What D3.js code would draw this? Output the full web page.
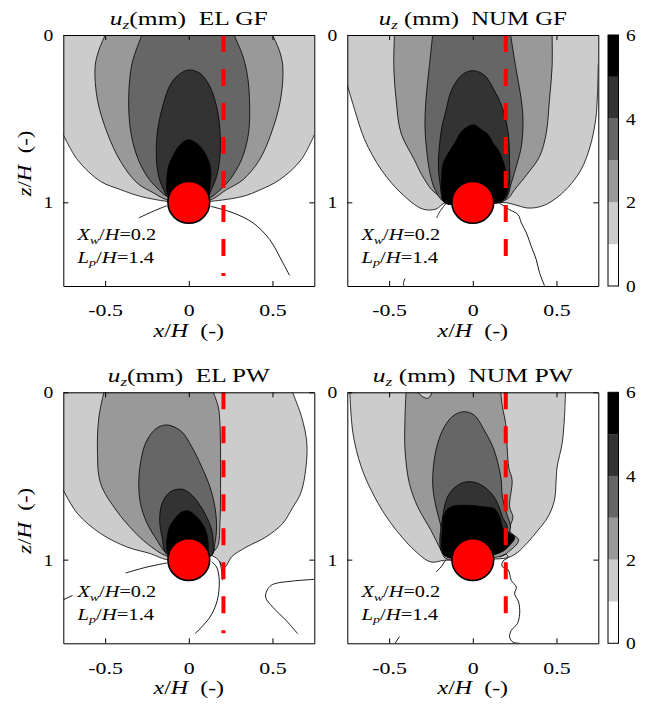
<!DOCTYPE html>
<html><head><meta charset="utf-8">
<script src="https://cdn.jsdelivr.net/npm/d3@7"></script>
<style>
body{margin:0;background:#fff;}
svg{display:block;font-family:"Liberation Serif","Times New Roman",serif;}
</style></head><body>
<svg id="chart" width="646" height="704"></svg>
<script>
// ---------------- data ----------------
const xTicks = [-0.5, 0, 0.5];
const zTicks = [0, 1];
const cbTicks = [0, 2, 4, 6];
const cbBands = [0, 1, 2, 3, 4, 5];           // lower bound of each colour band (mm)
const panelTitles = ["EL GF", "NUM GF", "EL PW", "NUM PW"];
const titleGap = ["", " ", "", " "];
const wallX = [0.207, 0.197, 0.207, 0.197];   // x/H of the wall (dashed red)
const wallBottom = [1.44, 1.32, 1.44, 1.32];  // z/H where wall ends
const pileCentre = [0, 1];                    // tunnel centre (x/H, z/H)
const pileRadius = 0.125;
const noteXw = "0.2";
const noteLp = "1.4";

// regions: [level, contour points [x/H, z/H], straight closure points]
const elGF = [
  [1, [[-0.75,0.596],[-0.665,0.746],[-0.527,0.875],[-0.408,0.924],[-0.29,0.964],[-0.131,0.994],[0,1],[0.131,0.994],[0.325,0.964],[0.42,0.928],[0.543,0.865],[0.671,0.746],[0.75,0.596]], [[0.75,0],[-0.75,0]]],
  [2, [[-0.5,0],[-0.537,0.09],[-0.56,0.189],[-0.546,0.388],[-0.487,0.586],[-0.408,0.755],[-0.309,0.884],[-0.21,0.944],[-0.131,0.985],[0,1],[0.131,0.985],[0.226,0.924],[0.324,0.865],[0.423,0.745],[0.493,0.586],[0.548,0.388],[0.562,0.189],[0.54,0.09],[0.5,0]], []],
  [3, [[-0.28,0],[-0.339,0.169],[-0.359,0.368],[-0.349,0.566],[-0.309,0.726],[-0.249,0.845],[-0.19,0.914],[-0.131,0.964],[0,1],[0.12,0.975],[0.166,0.944],[0.245,0.865],[0.315,0.745],[0.354,0.606],[0.364,0.467],[0.354,0.268],[0.324,0.129],[0.27,0]], []],
  [4, [[0,1],[-0.121,0.974],[-0.151,0.924],[-0.18,0.845],[-0.194,0.726],[-0.186,0.566],[-0.151,0.408],[-0.111,0.298],[-0.062,0.239],[-0.002,0.209],[0.067,0.229],[0.126,0.308],[0.166,0.427],[0.186,0.566],[0.186,0.726],[0.166,0.845],[0.126,0.944],[0.11,0.98],[0,1]], []],
  [5, [[0,1],[-0.121,0.964],[-0.131,0.865],[-0.121,0.785],[-0.091,0.716],[-0.052,0.656],[-0.002,0.626],[0.057,0.656],[0.107,0.726],[0.131,0.805],[0.126,0.905],[0.116,0.964],[0,1]], []]
];
const elGFLines = [
  [[-0.131,1.02],[-0.2,1.048],[-0.299,1.093]],
  [[0.131,1.024],[0.265,1.063],[0.384,1.123],[0.483,1.222],[0.562,1.361],[0.602,1.437]]
];

const numGF = [
  [1, [[-0.75,0.298],[-0.706,0.447],[-0.646,0.626],[-0.547,0.805],[-0.429,0.944],[-0.3,1.04],[-0.22,1.04],[-0.161,1.0],[0,1],[0.16,1.0],[0.211,1.004],[0.27,1.02],[0.33,1.034],[0.409,1.024],[0.486,0.984],[0.568,0.912],[0.647,0.805],[0.7,0.67],[0.735,0.5],[0.745,0.35],[0.75,0.17]], [[0.75,0],[-0.75,0]]],
  [2, [[-0.468,0],[-0.472,0.189],[-0.458,0.388],[-0.429,0.586],[-0.349,0.746],[-0.305,0.835],[-0.246,0.924],[-0.19,0.97],[-0.155,0.994],[0,1],[0.2,0.984],[0.25,0.924],[0.33,0.825],[0.399,0.726],[0.439,0.586],[0.458,0.388],[0.474,0.189],[0.474,0]], []],
  [3, [[-0.24,0],[-0.26,0.189],[-0.28,0.388],[-0.286,0.547],[-0.276,0.686],[-0.256,0.825],[-0.226,0.924],[-0.167,1.0],[0,1],[0.17,1.0],[0.207,0.964],[0.23,0.885],[0.26,0.785],[0.29,0.666],[0.30,0.507],[0.29,0.388],[0.256,0.189],[0.226,0]], []],
  [4, [[0,1],[-0.167,1.0],[-0.196,0.885],[-0.206,0.785],[-0.2,0.67],[-0.185,0.55],[-0.16,0.45],[-0.135,0.35],[-0.1,0.28],[-0.06,0.235],[-0.002,0.213],[0.068,0.239],[0.127,0.328],[0.171,0.42],[0.2,0.52],[0.215,0.62],[0.22,0.785],[0.22,0.885],[0.2,0.964],[0.16,1.0],[0,1]], []],
  [5, [[0,1],[-0.167,1.004],[-0.186,0.865],[-0.176,0.765],[-0.146,0.706],[-0.107,0.646],[-0.067,0.577],[0.002,0.537],[0.052,0.566],[0.092,0.596],[0.121,0.646],[0.151,0.686],[0.171,0.726],[0.19,0.785],[0.207,0.855],[0.207,0.924],[0.181,0.984],[0,1]], []]
];
const numGFLines = [
  [[-0.161,1.008],[-0.196,1.054],[-0.216,1.093]],
  [[-0.405,1.455],[-0.414,1.48],[-0.412,1.5]],
  [[0.16,1.005],[0.19,1.024],[0.22,1.044],[0.27,1.073],[0.29,1.123],[0.32,1.182],[0.349,1.262],[0.379,1.342],[0.399,1.421],[0.429,1.5]]
];

const elPW = [
  [1, [[-0.75,0.585],[-0.665,0.725],[-0.527,0.844],[-0.368,0.925],[-0.23,0.964],[-0.131,1.0],[0,1],[0.13,0.975],[0.175,1.0],[0.205,1.045],[0.222,1.04],[0.255,0.984],[0.344,0.925],[0.46,0.865],[0.56,0.785],[0.62,0.69],[0.67,0.6],[0.70,0.45],[0.705,0.3],[0.675,0.15],[0.62,0]], [[-0.75,0]]],
  [2, [[-0.507,0],[-0.537,0.146],[-0.546,0.345],[-0.527,0.545],[-0.43,0.71],[-0.329,0.83],[-0.249,0.904],[-0.131,0.98],[0,1],[0.12,0.97],[0.156,0.944],[0.176,0.91],[0.186,0.784],[0.19,0.5],[0.186,0.186],[0.176,0.086],[0.146,0]], []],
  [3, [[0,1],[-0.131,0.964],[-0.19,0.884],[-0.249,0.784],[-0.289,0.665],[-0.299,0.545],[-0.289,0.425],[-0.259,0.305],[-0.21,0.23],[-0.17,0.203],[-0.121,0.196],[-0.042,0.236],[0.018,0.326],[0.077,0.445],[0.126,0.565],[0.156,0.685],[0.166,0.805],[0.156,0.904],[0.137,0.974],[0,1]], []],
  [4, [[0,1],[-0.131,0.97],[-0.16,0.865],[-0.174,0.765],[-0.16,0.665],[-0.111,0.595],[-0.042,0.579],[0.008,0.605],[0.067,0.675],[0.107,0.745],[0.137,0.825],[0.146,0.904],[0.137,0.974],[0,1]], []],
  [5, [[0,1],[-0.121,0.97],[-0.121,0.825],[-0.091,0.765],[-0.042,0.715],[-0.002,0.709],[0.037,0.735],[0.087,0.795],[0.111,0.865],[0.116,0.944],[0.11,0.98],[0,1]], []]
];
const elPWLines = [
  [[-0.131,1.02],[-0.249,1.044],[-0.378,1.08]],
  [[-0.75,1.24],[-0.695,1.214]],
  [[0.137,1.014],[0.166,1.044],[0.182,1.124],[0.170,1.244],[0.126,1.344],[0.037,1.443]],
  [[0.75,1.118],[0.621,1.128],[0.502,1.148],[0.473,1.174],[0.459,1.224],[0.502,1.284],[0.582,1.364],[0.651,1.443]],
  [[0.185,1.01],[0.195,1.06],[0.2,1.124]]
];

const numPW = [
  [1, [[-0.735,0],[-0.716,0.246],[-0.667,0.445],[-0.587,0.625],[-0.488,0.784],[-0.349,0.944],[-0.25,1.014],[-0.17,1.004],[0,1],[0.2,0.99],[0.24,0.975],[0.27,0.955],[0.33,0.895],[0.389,0.825],[0.449,0.745],[0.488,0.645],[0.498,0.525],[0.504,0.445],[0.534,0.305],[0.548,0.146],[0.554,0]], []],
  [2, [[-0.399,0],[-0.405,0.146],[-0.405,0.345],[-0.379,0.545],[-0.329,0.685],[-0.25,0.825],[-0.19,0.944],[-0.161,0.994],[0,1],[0.181,0.975],[0.211,0.955],[0.274,0.885],[0.22,0.825],[0.24,0.745],[0.22,0.685],[0.235,0.525],[0.215,0.45],[0.206,0.345],[0.196,0.186],[0.177,0.086],[0.167,0]], []],
  [1, [[-0.329,0],[-0.3,0.026],[-0.27,0.036],[-0.25,0.016],[-0.246,0]], []],
  [3, [[0,1],[-0.17,0.974],[-0.19,0.805],[-0.22,0.685],[-0.24,0.545],[-0.22,0.345],[-0.17,0.206],[-0.111,0.136],[-0.051,0.116],[0.008,0.136],[0.068,0.226],[0.127,0.345],[0.167,0.505],[0.177,0.625],[0.196,0.705],[0.216,0.765],[0.226,0.805],[0.206,0.865],[0.177,0.944],[0,1]], []],
  [4, [[0,1],[-0.18,0.964],[-0.18,0.745],[-0.14,0.605],[-0.071,0.545],[-0.002,0.535],[0.068,0.565],[0.127,0.625],[0.157,0.685],[0.177,0.745],[0.206,0.805],[0.187,0.904],[0,1]], []],
  [5, [[0,1],[-0.17,0.97],[-0.18,0.805],[-0.17,0.725],[-0.131,0.685],[-0.051,0.675],[0.068,0.685],[0.127,0.695],[0.161,0.745],[0.181,0.815],[0.25,0.865],[0.22,0.915],[0.171,0.955],[0,1]], []]
];
const numPWLines = [
  [[-0.164,1.004],[-0.19,1.044],[-0.22,1.074]],
  [[-0.464,1.5],[-0.438,1.459]],
  [[0.161,0.985],[0.2,0.968],[0.21,0.988],[0.181,1.008],[0.175,1.04],[0.211,1.06],[0.23,1.124],[0.26,1.164],[0.25,1.204],[0.274,1.254],[0.28,1.323],[0.266,1.383],[0.23,1.423],[0.22,1.463],[0.24,1.493],[0.28,1.5]]
];

// ---------------- layout / style ----------------
const bandColors = ["#ffffff","#cccccc","#999999","#666666","#333333","#000000"];
const W = 251, H = 251;
const panels = [
  {regions: elGF,  lines: elGFLines,  left: 63.3,  top: 35,    yLabel: true,  cbar: false, titleW: 158},
  {regions: numGF, lines: numGFLines, left: 347.3, top: 35,    yLabel: false, cbar: true,  titleW: 188},
  {regions: elPW,  lines: elPWLines,  left: 63.3,  top: 392.3, yLabel: true,  cbar: false, titleW: 162},
  {regions: numPW, lines: numPWLines, left: 347.3, top: 392.3, yLabel: false, cbar: true,  titleW: 200}
];
const FONT = '"Liberation Serif","Times New Roman",serif';
const svg = d3.select("#chart");
const defs = svg.append("defs");
const fmt = d => d === 0 ? "0" : String(d);

function mathText(sel, parts, size) {
  let shifted = false;
  parts.forEach(([t, m]) => {
    const ts = sel.append("tspan").text(t);
    if (m === "sub") {
      ts.attr("font-style", "italic").attr("font-size", size * 0.68).attr("dy", size * 0.22);
      shifted = true;
    } else {
      if (m === "i") ts.attr("font-style", "italic");
      if (shifted) { ts.attr("dy", -size * 0.22); shifted = false; }
    }
  });
}
// text stretched horizontally to a target width (the original uses a wide TeX font)
function placeText(g, parts, size, ax, ay, target, anchor, rot) {
  const t = g.append("text").attr("font-size", size).attr("text-anchor", anchor).attr("fill", "#000")
    .attr("xml:space", "preserve");
  mathText(t, parts, size);
  const w = t.node().getBBox().width;
  const s = target ? target / w : 1;
  t.attr("transform", `translate(${ax},${ay})` + (rot ? ` rotate(${rot})` : "") + ` scale(${s},1)`);
  return t;
}

panels.forEach((p, i) => {
  const x = d3.scaleLinear().domain([-0.75, 0.75]).range([p.left, p.left + W]);
  const y = d3.scaleLinear().domain([0, 1.5]).range([p.top, p.top + H]);
  const g = svg.append("g");
  defs.append("clipPath").attr("id", "clip" + i)
    .append("rect").attr("x", p.left).attr("y", p.top).attr("width", W).attr("height", H);
  const cg = g.append("g").attr("clip-path", `url(#clip${i})`);
  const line = d3.line().x(d => x(d[0])).y(d => y(d[1])).curve(d3.curveCatmullRom.alpha(0.5));

  p.regions.forEach(([lev, pts, corners]) => {
    const d = line(pts) + corners.map(c => `L${x(c[0])},${y(c[1])}`).join("") + "Z";
    cg.append("path").attr("d", d).attr("fill", bandColors[lev]).attr("stroke", "none");
    cg.append("path").attr("d", line(pts)).attr("fill", "none").attr("stroke", "#000").attr("stroke-width", 0.8);
  });
  p.lines.forEach(pts => {
    cg.append("path").attr("d", line(pts)).attr("fill", "none").attr("stroke", "#000").attr("stroke-width", 0.9);
  });

  // wall
  cg.append("line")
    .attr("x1", x(wallX[i])).attr("x2", x(wallX[i]))
    .attr("y1", y(0)).attr("y2", y(wallBottom[i]))
    .attr("stroke", "#ff0000").attr("stroke-width", 4)
    .attr("stroke-dasharray", "17,17");

  // tunnel
  g.append("circle")
    .attr("cx", x(pileCentre[0])).attr("cy", y(pileCentre[1]))
    .attr("r", x(pileRadius) - x(0))
    .attr("fill", "#ff0000").attr("stroke", "#000").attr("stroke-width", 1.6);

  // axes
  const styleAxis = (a, sx) => {
    a.attr("font-family", FONT).attr("font-size", 17.5);
    a.selectAll("text").attr("fill", "#000").attr("transform", `scale(${sx},1)`);
    a.selectAll("path,line").attr("stroke", "#000").attr("stroke-width", 1);
  };
  g.append("g").attr("transform", `translate(0,${p.top + H})`)
    .call(d3.axisBottom(x).tickValues(xTicks).tickSizeInner(-5).tickSizeOuter(0).tickPadding(18).tickFormat(fmt))
    .call(a => styleAxis(a, 1.25));
  g.append("g").attr("transform", `translate(0,${p.top})`)
    .call(d3.axisTop(x).tickValues(xTicks).tickSizeInner(-5).tickSizeOuter(0).tickFormat(() => ""))
    .call(a => styleAxis(a, 1));
  g.append("g").attr("transform", `translate(${p.left},0)`)
    .call(d3.axisLeft(y).tickValues(zTicks).tickSizeInner(-5).tickSizeOuter(0).tickPadding(9).tickFormat(fmt))
    .call(a => styleAxis(a, 1.12));
  g.append("g").attr("transform", `translate(${p.left + W},0)`)
    .call(d3.axisRight(y).tickValues(zTicks).tickSizeInner(-5).tickSizeOuter(0).tickFormat(() => ""))
    .call(a => styleAxis(a, 1));

  // title
  placeText(g, [["u", "i"], ["z", "sub"], [titleGap[i] + "(mm)  " + panelTitles[i], ""]], 18,
            x(0), p.top - 10, p.titleW, "middle", 0);
  // x label
  placeText(g, [["x", "i"], ["/", ""], ["H", "i"], ["  (-)", ""]], 18, x(0), p.top + H + 51, 72, "middle", 0);
  if (p.yLabel) {
    placeText(g, [["z", "i"], ["/", ""], ["H", "i"], ["  (-)", ""]], 18, 31, p.top + H / 2 + 3, 67, "middle", -90);
  }
  // notes
  placeText(g, [["X", "i"], ["w", "sub"], ["/", ""], ["H", "i"], ["=" + noteXw, ""]], 16, x(-0.665), y(1.225), 80, "start", 0);
  placeText(g, [["L", "i"], ["p", "sub"], ["/", ""], ["H", "i"], ["=" + noteLp, ""]], 16, x(-0.665), y(1.36), 78, "start", 0);

  // colour bar
  if (p.cbar) {
    const cb = d3.scaleLinear().domain([0, 6]).range([p.top + H, p.top]);
    const cx0 = 608, cw = 10.5;
    g.selectAll(null).data(cbBands).join("rect")
      .attr("x", cx0).attr("width", cw)
      .attr("y", d => cb(d + 1)).attr("height", d => cb(d) - cb(d + 1))
      .attr("fill", d => bandColors[d]);
    g.append("rect").attr("x", cx0).attr("y", cb(6)).attr("width", cw).attr("height", cb(0) - cb(6))
      .attr("fill", "none").attr("stroke", "#000").attr("stroke-width", 1);
    cbTicks.forEach(v => {
      placeText(g, [[String(v), ""]], 17.5, 626, cb(v) + 6, 10, "start", 0);
    });
  }
});
</script>
</body></html>
